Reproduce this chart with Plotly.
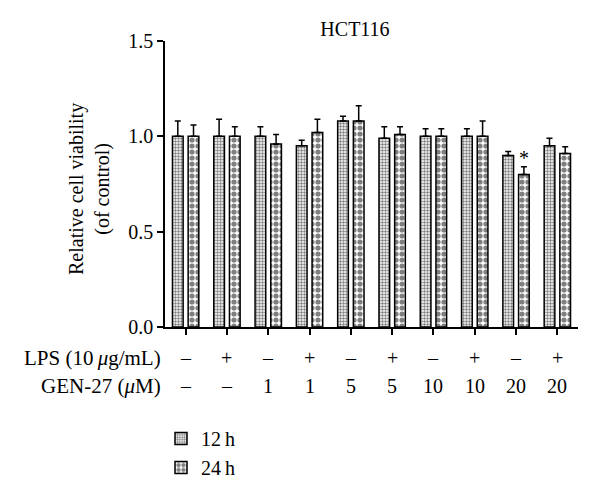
import plotly.graph_objects as go

# Data
lps = ["–", "+", "–", "+", "–", "+", "–", "+", "–", "+"]
gen27 = ["–", "–", "1", "1", "5", "5", "10", "10", "20", "20"]
v12 = [1.00, 1.00, 1.00, 0.95, 1.08, 0.99, 1.00, 1.00, 0.90, 0.95]
e12 = [0.08, 0.09, 0.05, 0.03, 0.025, 0.06, 0.04, 0.04, 0.02, 0.04]
v24 = [1.00, 1.00, 0.96, 1.02, 1.08, 1.01, 1.00, 1.00, 0.80, 0.91]
e24 = [0.06, 0.05, 0.05, 0.07, 0.08, 0.04, 0.04, 0.08, 0.04, 0.035]
sig24 = ["", "", "", "", "", "", "", "", "*", ""]
yticks = [0, 0.5, 1.0, 1.5]
yticklabels = ["0.0", "0.5", "1.0", "1.5"]

FONT = "Liberation Serif"
FS = 20
xs = list(range(len(lps)))

fig = go.Figure()
fig.add_trace(go.Bar(
    x=xs, y=v12, name="12\u2009h",
    marker=dict(color="white", line=dict(color="black", width=1.5),
                pattern=dict(shape=".", size=3, solidity=0.5,
                             fgcolor="black", bgcolor="white")),
    error_y=dict(type="data", array=e12, arrayminus=[0]*len(e12), symmetric=False,
                 color="black", thickness=1.5, width=3),
))
fig.add_trace(go.Bar(
    x=xs, y=v24, name="24\u2009h",
    marker=dict(color="white", line=dict(color="black", width=1.5),
                pattern=dict(shape=".", size=6, solidity=0.6,
                             fgcolor="black", bgcolor="white")),
    error_y=dict(type="data", array=e24, arrayminus=[0]*len(e24), symmetric=False,
                 color="black", thickness=1.5, width=3),
))

annotations = []
for i in xs:
    annotations.append(dict(x=i, y=-0.11, xref="x", yref="paper", text=lps[i],
                            showarrow=False, font=dict(family=FONT, size=FS, color="black"),
                            xanchor="center", yanchor="middle"))
    annotations.append(dict(x=i, y=-0.205, xref="x", yref="paper", text=gen27[i],
                            showarrow=False, font=dict(family=FONT, size=FS, color="black"),
                            xanchor="center", yanchor="middle"))
    if sig24[i]:
        annotations.append(dict(x=i, y=v24[i] + e24[i], xref="x", yref="y", text=sig24[i],
                                showarrow=False, xshift=8, yshift=-4, yanchor="bottom",
                                font=dict(family=FONT, size=FS, color="black")))
annotations.append(dict(x=-0.005, y=-0.11, xref="paper", yref="paper",
                        text="LPS (10\u2009<i>μ</i>g/mL)", showarrow=False,
                        xanchor="right", yanchor="middle",
                        font=dict(family=FONT, size=21, color="black")))
annotations.append(dict(x=-0.005, y=-0.205, xref="paper", yref="paper",
                        text="GEN-27 (<i>μ</i>M)", showarrow=False,
                        xanchor="right", yanchor="middle",
                        font=dict(family=FONT, size=21, color="black")))
annotations.append(dict(x=-0.184, y=0.4825, xref="paper", yref="paper",
                        text="Relative cell viability<br>(of control)", showarrow=False,
                        textangle=-90, xanchor="center", yanchor="middle",
                        font=dict(family=FONT, size=20, color="black")))

fig.update_layout(
    width=600, height=494,
    margin=dict(l=165, r=22, t=41, b=167, autoexpand=False),
    paper_bgcolor="white", plot_bgcolor="white",
    barmode="group", bargap=0.24, bargroupgap=0.32,
    font=dict(family=FONT, size=FS, color="black"),
    title=dict(text="HCT116", x=355 / 600, xref="container", xanchor="center",
               y=1 - 29 / 494, yanchor="middle",
               font=dict(family=FONT, size=FS, color="black")),
    xaxis=dict(range=[-0.5, 9.5], tickvals=xs, showticklabels=False,
               ticks="outside", ticklen=6, tickwidth=1.5, tickcolor="black",
               showline=True, linecolor="black", linewidth=1.5,
               showgrid=False, zeroline=False),
    yaxis=dict(range=[0, 1.5], tickvals=yticks, ticktext=yticklabels,
               ticks="outside", ticklen=6, tickwidth=1.5, tickcolor="black",
               showline=True, linecolor="black", linewidth=1.5,
               showgrid=False, zeroline=False,
               tickfont=dict(family=FONT, size=FS, color="black")),
    legend=dict(x=161 / 600, y=1 - 419 / 494, xref="container", yref="container",
                xanchor="left", yanchor="top",
                orientation="v", font=dict(family=FONT, size=FS, color="black"),
                bgcolor="rgba(0,0,0,0)", tracegroupgap=0),
    annotations=annotations,
    showlegend=True,
)

fig.write_html("out.html", config={"displayModeBar": False},
               post_script="document.body.style.margin='0';")
